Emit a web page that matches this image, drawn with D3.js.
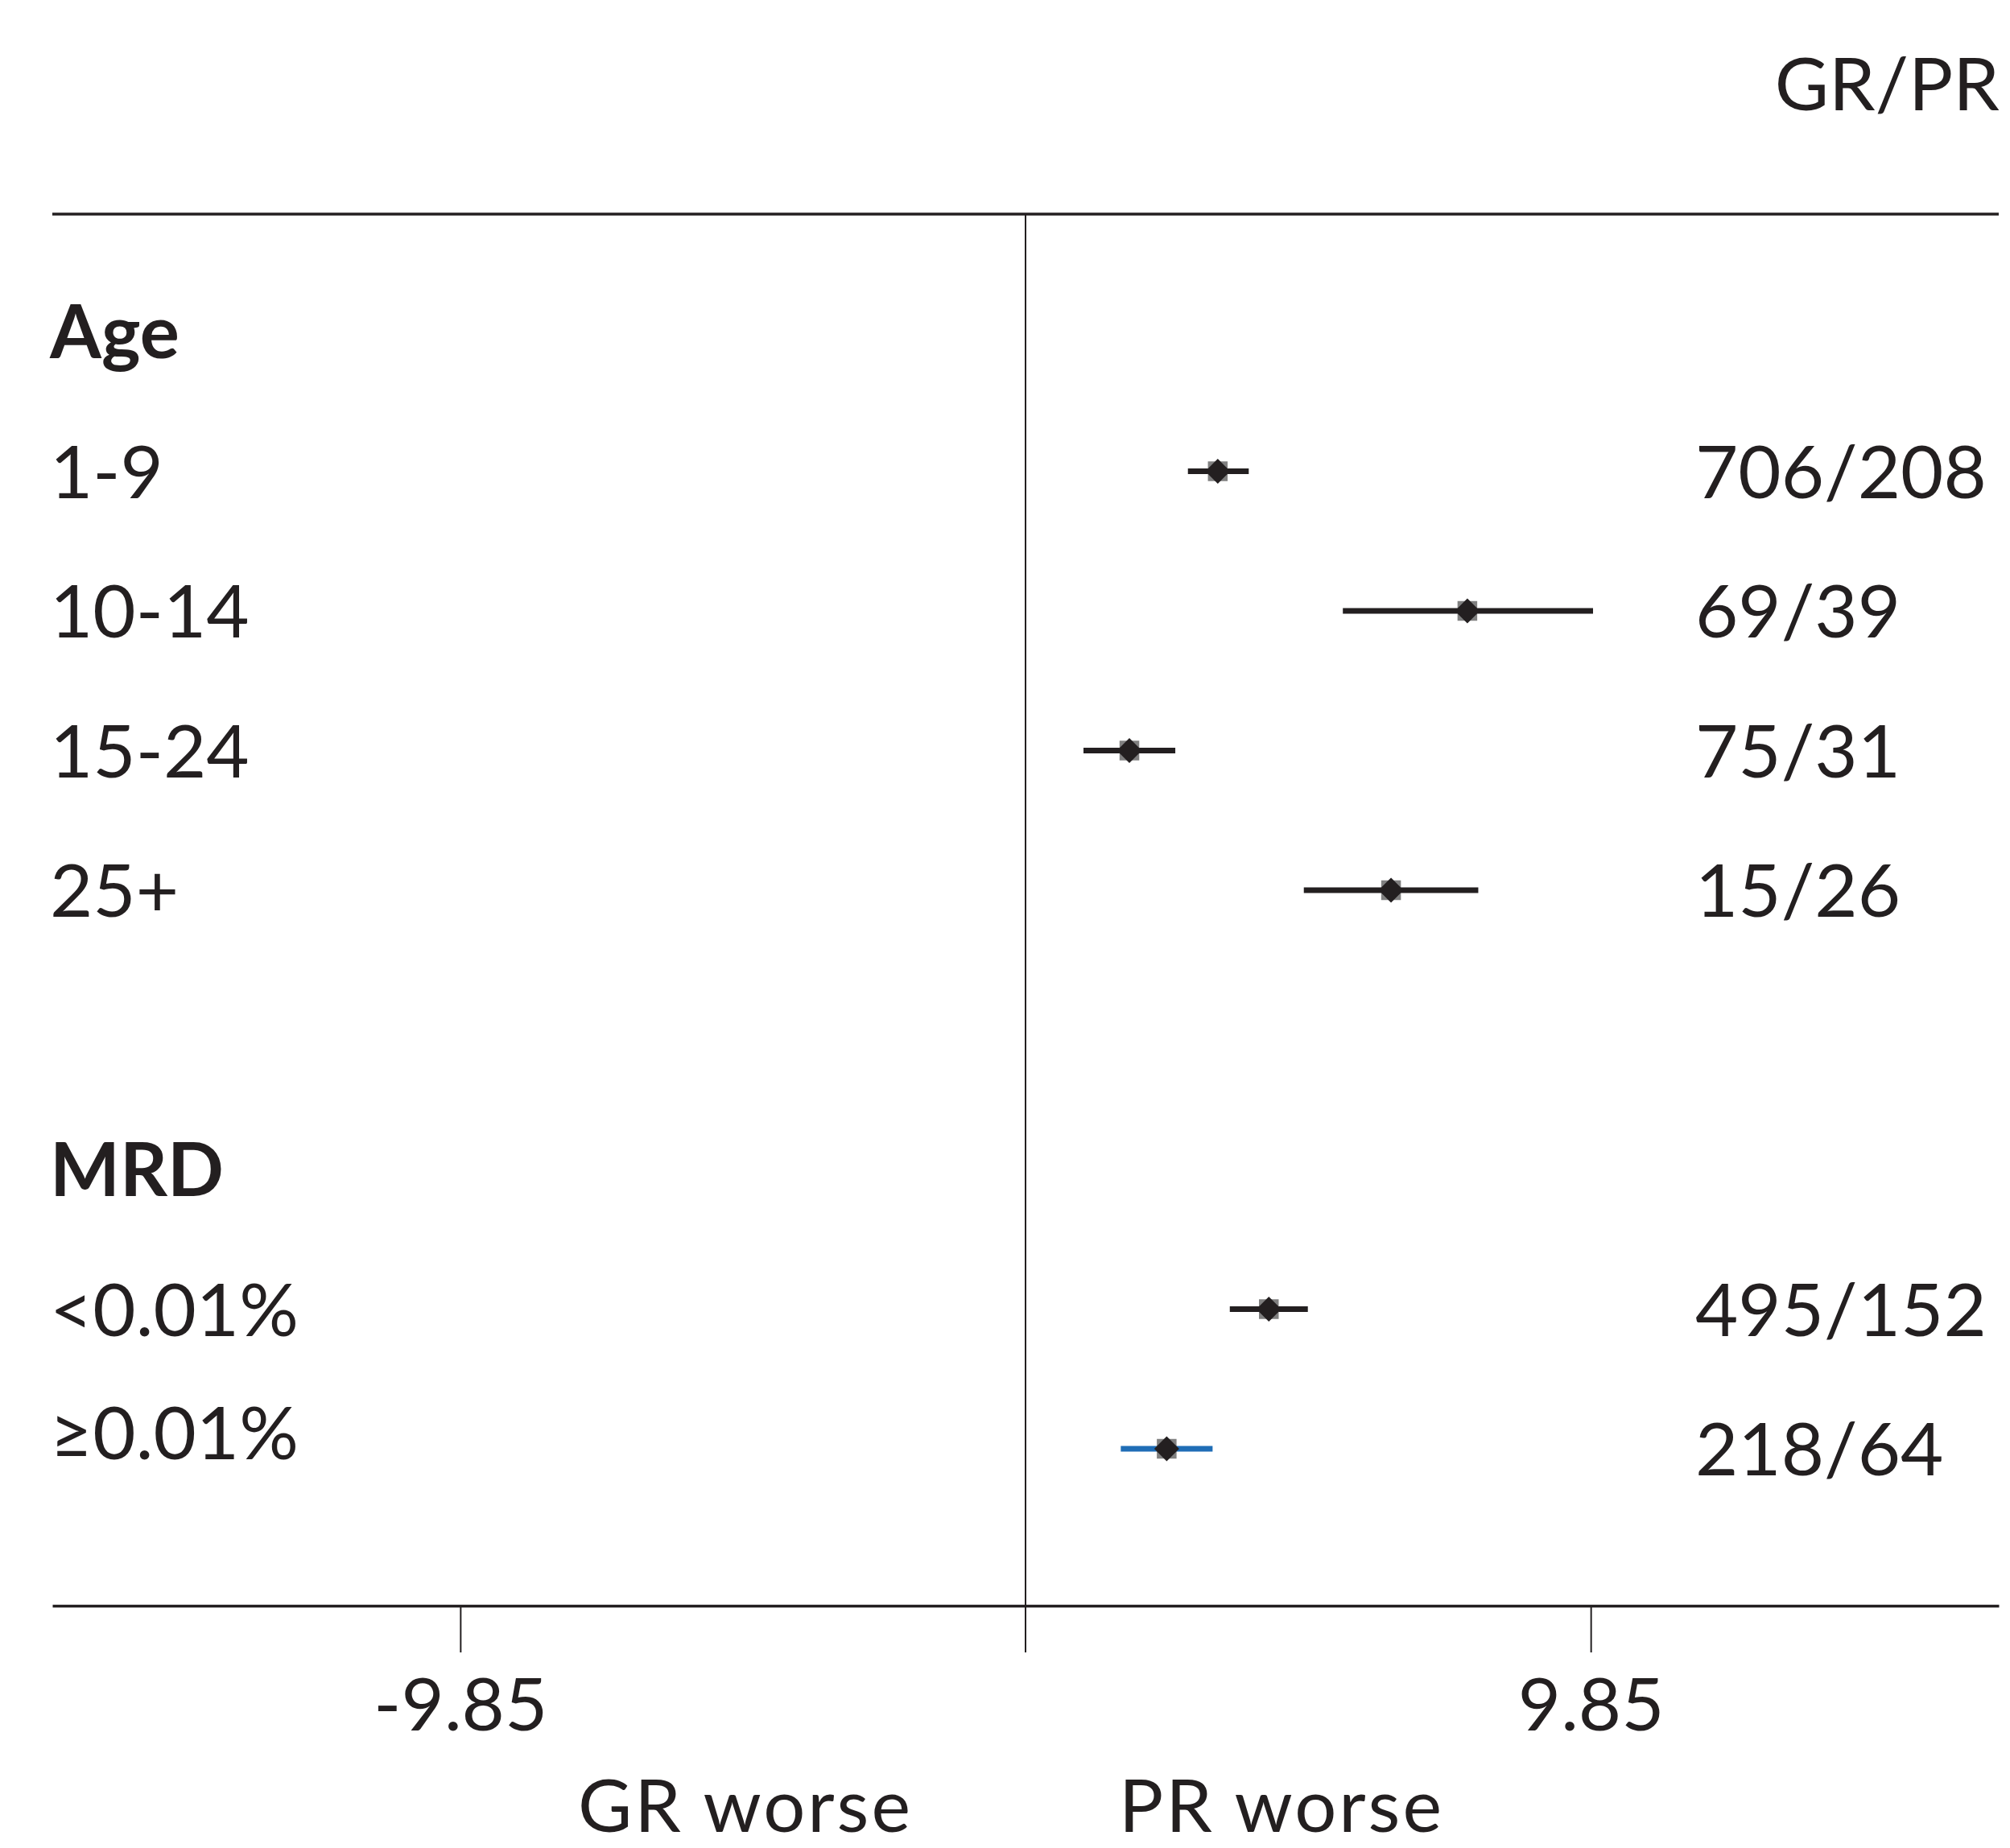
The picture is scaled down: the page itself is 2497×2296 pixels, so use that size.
<!DOCTYPE html>
<html>
<head>
<meta charset="utf-8">
<script src="https://cdn.jsdelivr.net/npm/d3@7"></script>
<style>
  body { margin: 0; background: #fff; }
  text { font-family: Lato, "Open Sans", sans-serif; fill: #231f20; }
</style>
</head>
<body>
<main></main>
<script>
// data
const groupHeaders = ['Age', 'MRD']
const headerRows = [0, 6]
const subgroups = ['1-9', '10-14', '15-24', '25+', '<0.01%', '≥0.01%']
const subgroupRows = [1, 2, 3, 4, 7, 8]
const estimates = [3.35, 7.70, 1.81, 6.37, 4.24, 2.46]
const lowerCI = [2.83, 5.53, 1.01, 4.85, 3.56, 1.66]
const upperCI = [3.89, 9.89, 2.61, 7.89, 4.92, 3.26]
const counts = ['706/208', '69/39', '75/31', '15/26', '495/152', '218/64']
const xTicks = [-9.85, 9.85]

// sizes
const size = { width: 2497, height: 2296 }
const plot = { left: 65, right: 2483, top: 266, axis: 1995 }
const fontSize = 92
const ink = '#231f20'

const svg = d3.select('main')
    .append('svg')
    .attr('width', size.width)
    .attr('height', size.height)

// scales
const xScale = d3.scaleLinear()
    .domain([-16.96, 16.96])
    .range([plot.left, plot.right])

const yScale = d3.scaleLinear()
    .domain([0, 8])
    .range([412, 1800])

// top rule + column title
svg.append('line')
    .attr('x1', plot.left).attr('x2', plot.right)
    .attr('y1', plot.top).attr('y2', plot.top)
    .attr('stroke', ink).attr('stroke-width', 3.5)

svg.append('text')
    .attr('x', 2484)
    .attr('y', 137)
    .attr('text-anchor', 'end')
    .style('font-size', fontSize + 'px')
    .text('GR/PR')

// zero line
svg.append('line')
    .attr('x1', xScale(0)).attr('x2', xScale(0))
    .attr('y1', plot.top).attr('y2', 2053)
    .attr('stroke', ink).attr('stroke-width', 2)

// x axis
const xAxis = d3.axisBottom(xScale)
    .tickValues(xTicks)
    .tickFormat(d => String(d))
    .tickSize(58)
    .tickSizeOuter(0)
    .tickPadding(32)

const gx = svg.append('g')
    .attr('transform', `translate(0, ${plot.axis})`)
    .call(xAxis)

gx.select('.domain').attr('stroke', ink).attr('stroke-width', 3.5)
gx.selectAll('.tick line').attr('stroke', ink).attr('stroke-width', 2)
gx.selectAll('.tick text')
    .attr('fill', ink)
    .style('font-family', 'Lato, sans-serif')
    .style('font-size', fontSize + 'px')

// group headers
svg.selectAll('text.header')
    .data(groupHeaders)
    .enter()
    .append('text')
    .attr('class', 'header')
    .attr('x', 62)
    .attr('y', (d, i) => yScale(headerRows[i]))
    .attr('dy', '0.36em')
    .style('font-size', fontSize + 'px')
    .style('font-weight', 700)
    .text(d => d)

// subgroup labels
svg.selectAll('text.sub')
    .data(subgroups)
    .enter()
    .append('text')
    .attr('class', 'sub')
    .attr('x', 62)
    .attr('y', (d, i) => yScale(subgroupRows[i]))
    .attr('dy', d => d.startsWith('≥') ? '0.14em' : '0.36em')
    .style('font-size', fontSize + 'px')
    .text(d => d)

// counts column
svg.selectAll('text.count')
    .data(counts)
    .enter()
    .append('text')
    .attr('class', 'count')
    .attr('x', 2106)
    .attr('y', (d, i) => yScale(subgroupRows[i]))
    .attr('dy', '0.36em')
    .style('font-size', fontSize + 'px')
    .text(d => d)

// confidence intervals
svg.selectAll('line.ci')
    .data(subgroups)
    .enter()
    .append('line')
    .attr('class', 'ci')
    .attr('x1', (d, i) => xScale(lowerCI[i]))
    .attr('x2', (d, i) => xScale(upperCI[i]))
    .attr('y1', (d, i) => yScale(subgroupRows[i]))
    .attr('y2', (d, i) => yScale(subgroupRows[i]))
    .attr('stroke', (d, i) => i === 5 ? '#1f6db6' : ink)
    .attr('stroke-width', 7)

// point estimates: grey square under a black diamond
const points = svg.selectAll('g.pt')
    .data(subgroups)
    .enter()
    .append('g')
    .attr('class', 'pt')
    .attr('transform', (d, i) => `translate(${xScale(estimates[i])}, ${yScale(subgroupRows[i])})`)

points.append('path')
    .attr('d', d3.symbol(d3.symbolSquare, 600))
    .attr('fill', '#808080')

points.append('path')
    .attr('d', d3.symbol(d3.symbolSquare, 480))
    .attr('transform', 'rotate(45)')
    .attr('fill', ink)

// direction labels
svg.append('text')
    .attr('x', 1134)
    .attr('y', 2276)
    .attr('text-anchor', 'end')
    .style('font-size', fontSize + 'px')
    .style('letter-spacing', '3px')
    .text('GR worse')

svg.append('text')
    .attr('x', 1390)
    .attr('y', 2276)
    .style('font-size', fontSize + 'px')
    .style('letter-spacing', '3px')
    .text('PR worse')
</script>
</body>
</html>
